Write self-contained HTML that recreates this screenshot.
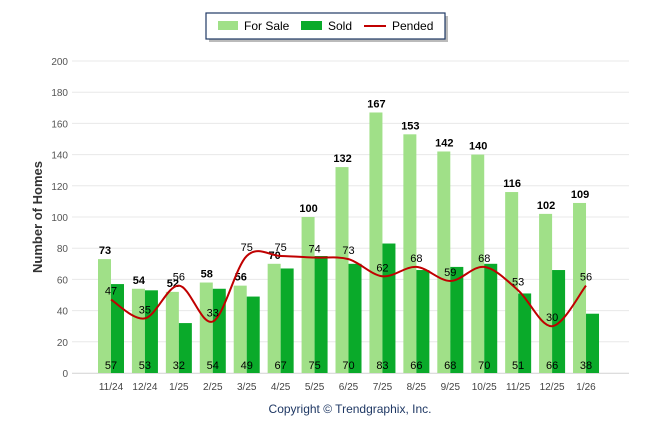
<!DOCTYPE html>
<html><head><meta charset="utf-8"><style>
body{margin:0;background:#fff;font-family:"Liberation Sans",Arial,sans-serif}
svg text{font-family:"Liberation Sans",Arial,sans-serif}
</style></head><body>
<svg id="c" width="646" height="434" xmlns="http://www.w3.org/2000/svg">
<g>
<rect x="209" y="16" width="239" height="26" fill="#bbb"/>
<rect x="206" y="13" width="239" height="26" fill="#fff" stroke="#1f3864" stroke-width="1.2"/>
<rect x="218" y="21" width="20" height="9" fill="#a0e088"/>
<text x="244" y="30" font-size="12">For Sale</text>
<rect x="301" y="21" width="21" height="9" fill="#0aaa2a"/>
<text x="328" y="30" font-size="12">Sold</text>
<line x1="364" y1="26" x2="386" y2="26" stroke="#c00000" stroke-width="2"/>
<text x="392" y="30" font-size="12">Pended</text>
</g>
<text transform="translate(42,217) rotate(-90)" text-anchor="middle" font-size="13" font-weight="bold" fill="#333">Number of Homes</text>
<text x="350" y="413" text-anchor="middle" font-size="12" fill="#1f3864">Copyright © Trendgraphix, Inc.</text>
<g id="g"></g>
</svg>
<script>
const categories=["11/24","12/24","1/25","2/25","3/25","4/25","5/25","6/25","7/25","8/25","9/25","10/25","11/25","12/25","1/26"];
const forSale=[73,54,52,58,56,70,100,132,167,153,142,140,116,102,109];
const sold=[57,53,32,54,49,67,75,70,83,66,68,70,51,66,38];
const pended=[47,35,56,33,75,75,74,73,62,68,59,68,53,30,56];
const yTicks=[0,20,40,60,80,100,120,140,160,180,200];
const NS="http://www.w3.org/2000/svg";
const g=document.getElementById('g');
const y=v=>373-v*1.56;
const xc=i=>111+i*33.93;
function mk(t,a){const e=document.createElementNS(NS,t);for(const k in a)e.setAttribute(k,a[k]);g.appendChild(e);return e;}
yTicks.forEach(v=>{
 const l=mk('line',{x1:72,x2:629,y1:y(v),y2:y(v),stroke:'#e8e8e8','stroke-width':1});
 
 
 const t=mk('text',{x:68,y:y(v)+4,'text-anchor':'end','font-size':10,fill:'#555'});t.textContent=v;
 
 
});
const ax=mk('line',{x1:72,x2:629,y1:373.5,y2:373.5,stroke:'#ddd'});


categories.forEach((c,i)=>{
 const cx=xc(i);
 const b1=mk('rect',{x:cx-13,y:y(forSale[i]),width:13,height:forSale[i]*1.56,fill:'#a0e088'});
 
 
 const b2=mk('rect',{x:cx,y:y(sold[i]),width:13,height:sold[i]*1.56,fill:'#0aaa2a'});
 
 
 const t=mk('text',{x:cx-6,y:y(forSale[i])-5,'text-anchor':'middle','font-size':11,'font-weight':'bold'});t.textContent=forSale[i];
 
 
 const s=mk('text',{x:cx,y:369,'text-anchor':'middle','font-size':11});s.textContent=sold[i];
 
 
 const xl=mk('text',{x:cx,y:390,'text-anchor':'middle','font-size':10,fill:'#444'});xl.textContent=c;
 
 
});
const P=pended.map((v,i)=>[xc(i),y(v)]);
let d='M'+P[0][0]+','+P[0][1];
for(let i=0;i<P.length-1;i++){
 const p0=P[Math.max(0,i-1)],p1=P[i],p2=P[i+1],p3=P[Math.min(P.length-1,i+2)];
 const c1=[p1[0]+(p2[0]-p0[0])/6,p1[1]+(p2[1]-p0[1])/6],c2=[p2[0]-(p3[0]-p1[0])/6,p2[1]-(p3[1]-p1[1])/6];
 d+=` C${c1[0]},${c1[1]} ${c2[0]},${c2[1]} ${p2[0]},${p2[1]}`;
}
const pl=mk('path',{d:d,fill:'none',stroke:'#c00000','stroke-width':2});


pended.forEach((v,i)=>{
 const t=mk('text',{x:xc(i),y:y(v)-5,'text-anchor':'middle','font-size':11});t.textContent=v;
 
 
});
</script>
</body></html>
